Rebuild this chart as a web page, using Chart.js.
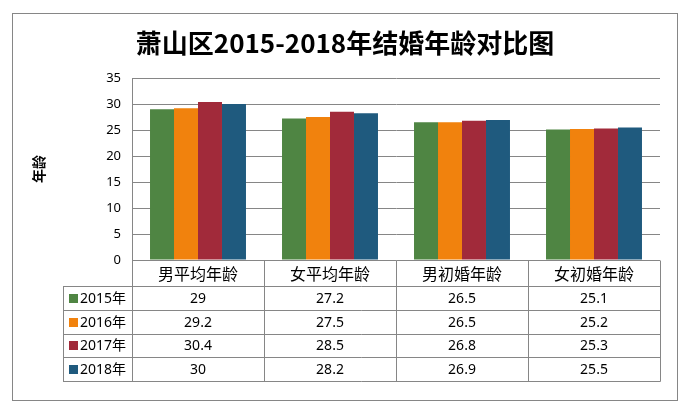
<!DOCTYPE html>
<html><head><meta charset="utf-8">
<script src="https://cdn.jsdelivr.net/npm/chart.js@4/dist/chart.umd.min.js"></script>
<style>html,body{margin:0;padding:0;background:#fff}#wrap{width:690px;height:410px;position:relative}</style>
</head><body><div id="wrap"><canvas id="c" width="690" height="410"></canvas></div>
<script>
const chartTitle = '萧山区2015-2018年结婚年龄对比图';
const yTitle = '年龄';
const categories = ['男平均年龄','女平均年龄','男初婚年龄','女初婚年龄'];
const seriesNames = ['2015年','2016年','2017年','2018年'];
const s2015 = [29, 27.2, 26.5, 25.1];
const s2016 = [29.2, 27.5, 26.5, 25.2];
const s2017 = [30.4, 28.5, 26.8, 25.3];
const s2018 = [30, 28.2, 26.9, 25.5];
const seriesValues = [s2015, s2016, s2017, s2018];
const yMin = 0, yMax = 35, yStep = 5;
const colors = ['#4F8543', '#F1820D', '#A12A3A', '#1F5A7E'];

const CJK = '"Noto Sans CJK SC", "Noto Sans", sans-serif';
const NUM = '"Noto Sans", "Noto Sans CJK SC", sans-serif';
const LINE = '#868686';

const decor = {
  id: 'decor',
  afterDraw(chart) {
    const ctx = chart.ctx, a = chart.chartArea, xs = chart.scales.x;
    const n = categories.length;
    const cw = (a.right - a.left) / n;
    const top = a.bottom;
    const headerH = 26, rowH = 23.75;
    const bottom = top + headerH + rowH * seriesNames.length;
    const legL = 63;
    const px = v => Math.round(v) + 0.5;
    ctx.save();
    // outer border
    ctx.strokeStyle = LINE; ctx.lineWidth = 1;
    ctx.strokeRect(12.5, 13.5, 665, 387);
    // table lines
    ctx.beginPath();
    for (let r = 0; r <= seriesNames.length; r++) {
      const y = px(top + headerH + r * rowH);
      ctx.moveTo(legL, y); ctx.lineTo(a.right + 0.5, y);
    }
    ctx.moveTo(px(legL), px(top + headerH)); ctx.lineTo(px(legL), px(bottom));
    for (let i = 0; i <= n; i++) {
      const x = px(a.left + i * cw);
      ctx.moveTo(x, px(top)); ctx.lineTo(x, px(bottom));
    }
    ctx.stroke();
    // header labels
    ctx.fillStyle = '#000';
    ctx.textAlign = 'center'; ctx.textBaseline = 'middle';
    ctx.font = '16px ' + CJK;
    categories.forEach((c, i) => {
      ctx.fillText(c, xs.getPixelForValue(i), top + headerH / 2 + 1);
    });
    // data rows
    seriesValues.forEach((vals, r) => {
      const yc = top + headerH + r * rowH + rowH / 2 + 1;
      ctx.font = '14px ' + NUM;
      ctx.textAlign = 'center';
      vals.forEach((v, i) => {
        ctx.fillText(String(v), xs.getPixelForValue(i), yc);
      });
      ctx.fillStyle = colors[r];
      ctx.fillRect(69, Math.round(yc - 5), 9, 9);
      ctx.fillStyle = '#000';
      ctx.textAlign = 'left';
      ctx.font = '14px ' + NUM;
      ctx.fillText(seriesNames[r], 80, yc);
    });
    // title
    ctx.textAlign = 'center'; ctx.textBaseline = 'middle';
    ctx.font = 'bold 26px ' + CJK;
    ctx.fillText(chartTitle, 345, 43);
    // y title
    ctx.save();
    ctx.translate(39, 169);
    ctx.rotate(-Math.PI / 2);
    ctx.font = 'bold 14px ' + CJK;
    ctx.fillText(yTitle, 0, 0);
    ctx.restore();
    ctx.restore();
  }
};

new Chart(document.getElementById('c'), {
  type: 'bar',
  data: {
    labels: categories,
    datasets: seriesNames.map((name, i) => ({
      label: name,
      data: seriesValues[i],
      backgroundColor: colors[i],
      borderWidth: 0,
      categoryPercentage: 0.727,
      barPercentage: 1
    }))
  },
  options: {
    responsive: false,
    animation: false,
    devicePixelRatio: 1,
    layout: { padding: { left: 12, right: 30, top: 78, bottom: 150 } },
    plugins: { legend: { display: false }, tooltip: { enabled: false }, title: { display: false } },
    scales: {
      x: { display: false, offset: true },
      y: {
        min: yMin, max: yMax,
        ticks: { stepSize: yStep, color: '#000', padding: 11, font: { size: 13, family: NUM } },
        grid: { color: LINE, drawTicks: false, lineWidth: 1 },
        border: { color: LINE, width: 1 },
        afterFit(s) { s.width = 120; }
      }
    }
  },
  plugins: [decor]
});
</script>
</body></html>
